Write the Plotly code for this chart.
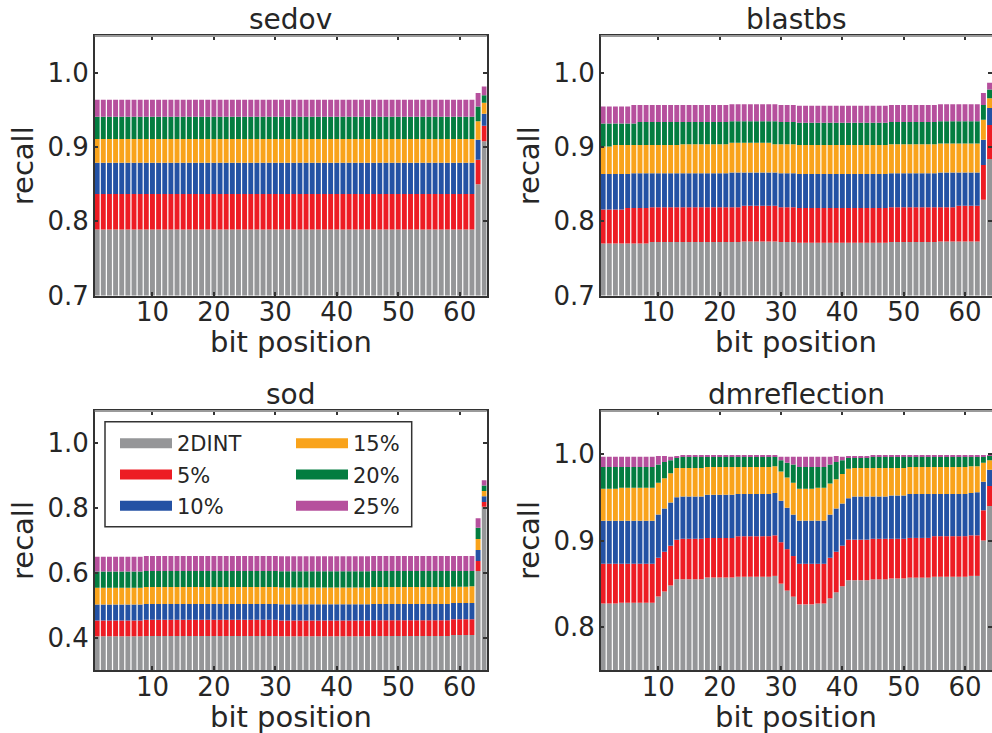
import numpy as np
import plotly.graph_objects as go

# ---------------------------------------------------------------- data
BITS = list(range(1, 65))
SERIES = ["2DINT", "5%", "10%", "15%", "20%", "25%"]
COLORS = ["#959698", "#ED1C24", "#2452A4", "#F9A31B", "#037D40", "#B6509D"]
X_TICKS = [10, 20, 30, 40, 50, 60]

# sedov: recall per bit position for each tolerance
SEDOV_2DINT = [0.789, 0.789, 0.789, 0.789, 0.789, 0.789, 0.789, 0.789, 0.789, 0.789, 0.789, 0.789, 0.789, 0.789, 0.789, 0.789,
               0.789, 0.789, 0.789, 0.789, 0.789, 0.789, 0.789, 0.789, 0.789, 0.789, 0.789, 0.789, 0.789, 0.789, 0.789, 0.789,
               0.789, 0.789, 0.789, 0.789, 0.789, 0.789, 0.789, 0.789, 0.789, 0.789, 0.789, 0.789, 0.789, 0.789, 0.789, 0.789,
               0.789, 0.789, 0.789, 0.789, 0.789, 0.789, 0.789, 0.789, 0.789, 0.789, 0.789, 0.789, 0.789, 0.789, 0.850, 0.908]
SEDOV_5 = [0.837, 0.837, 0.837, 0.837, 0.837, 0.837, 0.837, 0.837, 0.837, 0.837, 0.837, 0.837, 0.837, 0.837, 0.837, 0.837,
           0.837, 0.837, 0.837, 0.837, 0.837, 0.837, 0.837, 0.837, 0.837, 0.837, 0.837, 0.837, 0.837, 0.837, 0.837, 0.837,
           0.837, 0.837, 0.837, 0.837, 0.837, 0.837, 0.837, 0.837, 0.837, 0.837, 0.837, 0.837, 0.837, 0.837, 0.837, 0.837,
           0.837, 0.837, 0.837, 0.837, 0.837, 0.837, 0.837, 0.837, 0.837, 0.837, 0.837, 0.837, 0.837, 0.837, 0.883, 0.929]
SEDOV_10 = [0.879, 0.879, 0.879, 0.879, 0.879, 0.879, 0.879, 0.879, 0.879, 0.879, 0.879, 0.879, 0.879, 0.879, 0.879, 0.879,
            0.879, 0.879, 0.879, 0.879, 0.879, 0.879, 0.879, 0.879, 0.879, 0.879, 0.879, 0.879, 0.879, 0.879, 0.879, 0.879,
            0.879, 0.879, 0.879, 0.879, 0.879, 0.879, 0.879, 0.879, 0.879, 0.879, 0.879, 0.879, 0.879, 0.879, 0.879, 0.879,
            0.879, 0.879, 0.879, 0.879, 0.879, 0.879, 0.879, 0.879, 0.879, 0.879, 0.879, 0.879, 0.879, 0.879, 0.910, 0.945]
SEDOV_15 = [0.911, 0.911, 0.911, 0.911, 0.911, 0.911, 0.911, 0.911, 0.911, 0.911, 0.911, 0.911, 0.911, 0.911, 0.911, 0.911,
            0.911, 0.911, 0.911, 0.911, 0.911, 0.911, 0.911, 0.911, 0.911, 0.911, 0.911, 0.911, 0.911, 0.911, 0.911, 0.911,
            0.911, 0.911, 0.911, 0.911, 0.911, 0.911, 0.911, 0.911, 0.911, 0.911, 0.911, 0.911, 0.911, 0.911, 0.911, 0.911,
            0.911, 0.911, 0.911, 0.911, 0.911, 0.911, 0.911, 0.911, 0.911, 0.911, 0.911, 0.911, 0.911, 0.911, 0.935, 0.960]
SEDOV_20 = [0.941, 0.941, 0.941, 0.941, 0.941, 0.941, 0.941, 0.941, 0.941, 0.941, 0.941, 0.941, 0.941, 0.941, 0.941, 0.941,
            0.941, 0.941, 0.941, 0.941, 0.941, 0.941, 0.941, 0.941, 0.941, 0.941, 0.941, 0.941, 0.941, 0.941, 0.941, 0.941,
            0.941, 0.941, 0.941, 0.941, 0.941, 0.941, 0.941, 0.941, 0.941, 0.941, 0.941, 0.941, 0.941, 0.941, 0.941, 0.941,
            0.941, 0.941, 0.941, 0.941, 0.941, 0.941, 0.941, 0.941, 0.941, 0.941, 0.941, 0.941, 0.941, 0.941, 0.955, 0.970]
SEDOV_25 = [0.964, 0.964, 0.964, 0.964, 0.964, 0.964, 0.964, 0.964, 0.964, 0.964, 0.964, 0.964, 0.964, 0.964, 0.964, 0.964,
            0.964, 0.964, 0.964, 0.964, 0.964, 0.964, 0.964, 0.964, 0.964, 0.964, 0.964, 0.964, 0.964, 0.964, 0.964, 0.964,
            0.964, 0.964, 0.964, 0.964, 0.964, 0.964, 0.964, 0.964, 0.964, 0.964, 0.964, 0.964, 0.964, 0.964, 0.964, 0.964,
            0.964, 0.964, 0.964, 0.964, 0.964, 0.964, 0.964, 0.964, 0.964, 0.964, 0.964, 0.964, 0.964, 0.964, 0.973, 0.982]

# blastbs
BLAST_2DINT = [0.770, 0.770, 0.770, 0.770, 0.770, 0.770, 0.770, 0.770, 0.772, 0.772, 0.772, 0.772, 0.772, 0.772, 0.772, 0.772,
               0.772, 0.772, 0.772, 0.772, 0.772, 0.772, 0.772, 0.773, 0.773, 0.773, 0.773, 0.773, 0.773, 0.772, 0.772, 0.772,
               0.771, 0.771, 0.771, 0.771, 0.771, 0.771, 0.771, 0.771, 0.771, 0.771, 0.771, 0.771, 0.771, 0.771, 0.771, 0.772,
               0.772, 0.772, 0.772, 0.772, 0.772, 0.772, 0.772, 0.773, 0.773, 0.773, 0.773, 0.773, 0.773, 0.773, 0.829, 0.884]
BLAST_5 = [0.816, 0.816, 0.816, 0.816, 0.818, 0.818, 0.818, 0.818, 0.819, 0.819, 0.819, 0.819, 0.819, 0.819, 0.819, 0.819,
           0.819, 0.819, 0.819, 0.819, 0.819, 0.819, 0.819, 0.821, 0.821, 0.821, 0.821, 0.821, 0.821, 0.819, 0.819, 0.819,
           0.818, 0.818, 0.818, 0.818, 0.818, 0.818, 0.818, 0.818, 0.818, 0.818, 0.818, 0.818, 0.818, 0.818, 0.818, 0.819,
           0.819, 0.819, 0.819, 0.819, 0.819, 0.819, 0.819, 0.819, 0.819, 0.819, 0.821, 0.821, 0.821, 0.821, 0.876, 0.930]
BLAST_10 = [0.864, 0.864, 0.864, 0.864, 0.864, 0.865, 0.865, 0.865, 0.865, 0.865, 0.865, 0.865, 0.865, 0.865, 0.865, 0.865,
            0.865, 0.865, 0.865, 0.865, 0.865, 0.866, 0.866, 0.866, 0.866, 0.866, 0.866, 0.866, 0.866, 0.865, 0.865, 0.865,
            0.864, 0.864, 0.864, 0.864, 0.864, 0.864, 0.864, 0.864, 0.864, 0.864, 0.864, 0.864, 0.864, 0.864, 0.864, 0.865,
            0.865, 0.865, 0.865, 0.865, 0.865, 0.865, 0.865, 0.866, 0.866, 0.866, 0.866, 0.866, 0.866, 0.866, 0.910, 0.953]
BLAST_15 = [0.901, 0.901, 0.903, 0.903, 0.903, 0.903, 0.903, 0.903, 0.903, 0.903, 0.903, 0.903, 0.903, 0.904, 0.904, 0.904,
            0.904, 0.904, 0.904, 0.904, 0.904, 0.906, 0.906, 0.906, 0.906, 0.906, 0.906, 0.906, 0.904, 0.904, 0.904, 0.904,
            0.903, 0.903, 0.903, 0.903, 0.903, 0.903, 0.903, 0.903, 0.903, 0.903, 0.903, 0.903, 0.903, 0.903, 0.903, 0.904,
            0.904, 0.904, 0.904, 0.904, 0.904, 0.904, 0.904, 0.905, 0.905, 0.905, 0.905, 0.905, 0.905, 0.905, 0.937, 0.966]
BLAST_20 = [0.932, 0.932, 0.932, 0.932, 0.932, 0.932, 0.934, 0.934, 0.934, 0.934, 0.934, 0.934, 0.934, 0.934, 0.934, 0.934,
            0.934, 0.934, 0.934, 0.934, 0.934, 0.935, 0.935, 0.935, 0.935, 0.935, 0.935, 0.935, 0.935, 0.934, 0.934, 0.934,
            0.933, 0.933, 0.933, 0.933, 0.933, 0.933, 0.933, 0.933, 0.933, 0.933, 0.933, 0.933, 0.933, 0.933, 0.933, 0.934,
            0.934, 0.934, 0.934, 0.934, 0.934, 0.934, 0.934, 0.935, 0.935, 0.935, 0.935, 0.935, 0.935, 0.935, 0.957, 0.978]
BLAST_25 = [0.955, 0.955, 0.955, 0.955, 0.955, 0.957, 0.957, 0.957, 0.957, 0.957, 0.957, 0.957, 0.957, 0.957, 0.957, 0.957,
            0.957, 0.957, 0.957, 0.957, 0.957, 0.958, 0.958, 0.958, 0.958, 0.958, 0.958, 0.958, 0.958, 0.957, 0.957, 0.957,
            0.956, 0.956, 0.956, 0.956, 0.956, 0.956, 0.956, 0.956, 0.956, 0.956, 0.956, 0.956, 0.956, 0.956, 0.956, 0.957,
            0.957, 0.957, 0.957, 0.957, 0.957, 0.957, 0.957, 0.958, 0.958, 0.958, 0.958, 0.958, 0.958, 0.958, 0.973, 0.987]

# sod
SOD_2DINT = [0.404, 0.404, 0.404, 0.404, 0.404, 0.404, 0.404, 0.404, 0.405, 0.405, 0.405, 0.405, 0.405, 0.405, 0.405, 0.405,
             0.405, 0.405, 0.405, 0.405, 0.405, 0.405, 0.405, 0.405, 0.405, 0.405, 0.405, 0.405, 0.405, 0.405, 0.404, 0.404,
             0.404, 0.404, 0.404, 0.404, 0.404, 0.404, 0.404, 0.404, 0.404, 0.404, 0.404, 0.404, 0.404, 0.405, 0.405, 0.405,
             0.405, 0.405, 0.405, 0.405, 0.405, 0.405, 0.405, 0.405, 0.405, 0.405, 0.408, 0.408, 0.408, 0.408, 0.606, 0.804]
SOD_5 = [0.453, 0.453, 0.453, 0.453, 0.453, 0.453, 0.453, 0.453, 0.455, 0.455, 0.455, 0.455, 0.455, 0.455, 0.455, 0.455,
         0.455, 0.455, 0.455, 0.455, 0.455, 0.455, 0.455, 0.455, 0.455, 0.455, 0.455, 0.455, 0.455, 0.455, 0.453, 0.453,
         0.453, 0.453, 0.453, 0.453, 0.453, 0.453, 0.453, 0.453, 0.453, 0.453, 0.453, 0.453, 0.453, 0.454, 0.454, 0.454,
         0.454, 0.454, 0.454, 0.454, 0.454, 0.454, 0.454, 0.454, 0.454, 0.454, 0.457, 0.457, 0.457, 0.457, 0.637, 0.819]
SOD_10 = [0.502, 0.502, 0.502, 0.502, 0.502, 0.502, 0.502, 0.502, 0.504, 0.504, 0.504, 0.504, 0.504, 0.504, 0.504, 0.504,
          0.504, 0.504, 0.504, 0.504, 0.504, 0.504, 0.504, 0.504, 0.504, 0.504, 0.504, 0.504, 0.504, 0.504, 0.503, 0.503,
          0.503, 0.503, 0.503, 0.503, 0.503, 0.503, 0.503, 0.503, 0.503, 0.503, 0.503, 0.503, 0.503, 0.504, 0.504, 0.504,
          0.504, 0.504, 0.504, 0.504, 0.504, 0.504, 0.504, 0.504, 0.504, 0.504, 0.507, 0.507, 0.507, 0.507, 0.671, 0.837]
SOD_15 = [0.554, 0.554, 0.554, 0.554, 0.554, 0.554, 0.554, 0.554, 0.556, 0.556, 0.556, 0.556, 0.556, 0.556, 0.556, 0.556,
          0.556, 0.556, 0.556, 0.556, 0.556, 0.556, 0.556, 0.556, 0.556, 0.556, 0.556, 0.556, 0.556, 0.556, 0.555, 0.555,
          0.555, 0.555, 0.555, 0.555, 0.555, 0.555, 0.555, 0.555, 0.555, 0.555, 0.555, 0.555, 0.555, 0.556, 0.556, 0.556,
          0.556, 0.556, 0.556, 0.556, 0.556, 0.556, 0.556, 0.556, 0.556, 0.556, 0.557, 0.557, 0.557, 0.559, 0.705, 0.853]
SOD_20 = [0.604, 0.604, 0.604, 0.604, 0.604, 0.604, 0.604, 0.604, 0.606, 0.606, 0.606, 0.606, 0.606, 0.606, 0.606, 0.606,
          0.606, 0.606, 0.606, 0.606, 0.606, 0.606, 0.606, 0.606, 0.606, 0.606, 0.606, 0.606, 0.606, 0.606, 0.605, 0.605,
          0.605, 0.605, 0.605, 0.605, 0.605, 0.605, 0.605, 0.605, 0.605, 0.605, 0.605, 0.605, 0.605, 0.606, 0.606, 0.606,
          0.606, 0.606, 0.606, 0.606, 0.606, 0.606, 0.606, 0.606, 0.606, 0.606, 0.606, 0.606, 0.606, 0.606, 0.739, 0.870]
SOD_25 = [0.650, 0.650, 0.650, 0.650, 0.650, 0.650, 0.650, 0.650, 0.652, 0.652, 0.652, 0.652, 0.652, 0.652, 0.652, 0.652,
          0.652, 0.652, 0.652, 0.652, 0.652, 0.652, 0.652, 0.652, 0.652, 0.652, 0.652, 0.652, 0.652, 0.652, 0.651, 0.651,
          0.651, 0.651, 0.651, 0.651, 0.651, 0.651, 0.651, 0.651, 0.651, 0.651, 0.651, 0.651, 0.651, 0.652, 0.652, 0.652,
          0.652, 0.652, 0.652, 0.652, 0.652, 0.652, 0.652, 0.652, 0.652, 0.652, 0.652, 0.652, 0.652, 0.652, 0.769, 0.886]

# dmreflection
DMR_2DINT = [0.827, 0.827, 0.827, 0.828, 0.828, 0.828, 0.828, 0.828, 0.828, 0.835, 0.841, 0.848, 0.855, 0.855, 0.855, 0.855,
             0.855, 0.857, 0.857, 0.857, 0.857, 0.857, 0.858, 0.858, 0.858, 0.858, 0.858, 0.858, 0.859, 0.850, 0.842, 0.835,
             0.826, 0.826, 0.826, 0.827, 0.827, 0.833, 0.840, 0.847, 0.854, 0.854, 0.854, 0.854, 0.855, 0.855, 0.855, 0.856,
             0.856, 0.856, 0.857, 0.857, 0.857, 0.857, 0.858, 0.858, 0.858, 0.858, 0.858, 0.858, 0.859, 0.859, 0.900, 0.940]
DMR_5 = [0.873, 0.873, 0.873, 0.873, 0.873, 0.873, 0.873, 0.873, 0.873, 0.880, 0.887, 0.894, 0.901, 0.902, 0.902, 0.902,
         0.902, 0.903, 0.903, 0.903, 0.903, 0.903, 0.905, 0.905, 0.905, 0.905, 0.905, 0.905, 0.906, 0.898, 0.890, 0.882,
         0.873, 0.873, 0.873, 0.873, 0.873, 0.880, 0.887, 0.894, 0.901, 0.901, 0.901, 0.901, 0.902, 0.902, 0.902, 0.902,
         0.902, 0.902, 0.903, 0.903, 0.903, 0.903, 0.905, 0.905, 0.905, 0.905, 0.905, 0.905, 0.906, 0.906, 0.935, 0.963]
DMR_10 = [0.923, 0.923, 0.923, 0.923, 0.923, 0.923, 0.923, 0.923, 0.923, 0.930, 0.937, 0.944, 0.950, 0.951, 0.951, 0.951,
          0.951, 0.953, 0.953, 0.953, 0.953, 0.953, 0.954, 0.954, 0.954, 0.954, 0.954, 0.954, 0.955, 0.946, 0.938, 0.930,
          0.923, 0.923, 0.923, 0.923, 0.923, 0.930, 0.937, 0.943, 0.949, 0.951, 0.951, 0.951, 0.951, 0.951, 0.951, 0.952,
          0.952, 0.952, 0.954, 0.954, 0.954, 0.954, 0.954, 0.954, 0.954, 0.954, 0.954, 0.954, 0.955, 0.956, 0.968, 0.982]
DMR_15 = [0.960, 0.960, 0.960, 0.961, 0.961, 0.961, 0.961, 0.961, 0.961, 0.967, 0.972, 0.978, 0.984, 0.984, 0.984, 0.984,
          0.984, 0.985, 0.985, 0.985, 0.985, 0.985, 0.985, 0.985, 0.985, 0.985, 0.985, 0.985, 0.986, 0.980, 0.973, 0.967,
          0.960, 0.960, 0.960, 0.961, 0.961, 0.966, 0.971, 0.977, 0.983, 0.984, 0.984, 0.984, 0.984, 0.984, 0.984, 0.984,
          0.984, 0.984, 0.985, 0.985, 0.985, 0.985, 0.985, 0.985, 0.985, 0.985, 0.985, 0.985, 0.986, 0.986, 0.990, 0.993]
DMR_20 = [0.985, 0.985, 0.985, 0.985, 0.985, 0.985, 0.985, 0.985, 0.985, 0.988, 0.991, 0.993, 0.996, 0.997, 0.997, 0.997,
          0.997, 0.997, 0.997, 0.997, 0.997, 0.997, 0.997, 0.997, 0.997, 0.997, 0.997, 0.997, 0.997, 0.993, 0.990, 0.988,
          0.985, 0.985, 0.985, 0.985, 0.985, 0.988, 0.991, 0.993, 0.996, 0.996, 0.996, 0.996, 0.997, 0.997, 0.997, 0.997,
          0.997, 0.997, 0.997, 0.997, 0.997, 0.997, 0.997, 0.997, 0.997, 0.997, 0.997, 0.997, 0.997, 0.997, 0.997, 0.998]
DMR_25 = [0.997, 0.997, 0.997, 0.997, 0.997, 0.997, 0.997, 0.997, 0.997, 0.998, 0.998, 0.997, 0.997, 0.998, 0.998, 0.998,
          0.998, 0.998, 0.998, 0.998, 0.998, 0.998, 0.998, 0.998, 0.998, 0.998, 0.998, 0.998, 0.998, 0.997, 0.997, 0.997,
          0.997, 0.997, 0.997, 0.997, 0.997, 0.997, 0.998, 0.997, 0.997, 0.997, 0.997, 0.997, 0.998, 0.998, 0.998, 0.998,
          0.998, 0.998, 0.998, 0.998, 0.998, 0.998, 0.998, 0.998, 0.998, 0.998, 0.998, 0.998, 0.998, 0.998, 0.998, 0.999]

PANELS = [
    ("sedov", [SEDOV_2DINT, SEDOV_5, SEDOV_10, SEDOV_15, SEDOV_20, SEDOV_25], [0.7, 1.05], [0.7, 0.8, 0.9, 1.0]),
    ("blastbs", [BLAST_2DINT, BLAST_5, BLAST_10, BLAST_15, BLAST_20, BLAST_25], [0.7, 1.05], [0.7, 0.8, 0.9, 1.0]),
    ("sod", [SOD_2DINT, SOD_5, SOD_10, SOD_15, SOD_20, SOD_25], [0.3, 1.1], [0.4, 0.6, 0.8, 1.0]),
    ("dmreflection", [DMR_2DINT, DMR_5, DMR_10, DMR_15, DMR_20, DMR_25], [0.75, 1.05], [0.8, 0.9, 1.0]),
]

# ---------------------------------------------------------------- layout geometry (pixels)
W, H = 992, 733
BOXES = [  # left, right, top, bottom
    (94.7, 486.7, 36.0, 295.5),
    (600.7, 992.0, 36.0, 295.5),
    (94.7, 486.7, 411.0, 670.0),
    (600.7, 992.0, 411.0, 670.0),
]
FONT = "DejaVu Sans, Liberation Sans, Arial, sans-serif"
INK = "#262626"


def xdom(l, r):
    return [l / W, min(r / W, 1.0)]


def ydom(t, b):
    return [1 - b / H, 1 - t / H]


fig = go.Figure()
layout = dict(
    width=W, height=H,
    margin=dict(l=0, r=0, t=0, b=0, autoexpand=False),
    paper_bgcolor="white", plot_bgcolor="white",
    barmode="overlay", bargap=0.2,
    font=dict(family=FONT, color=INK, size=26),
    annotations=[], shapes=[],
)

for i, (name, series, yrange, yticks) in enumerate(PANELS):
    n = "" if i == 0 else str(i + 1)
    xa, ya = "x" + n, "y" + n
    # each tolerance level is a segment from the previous level up to its own recall
    lower = np.zeros(len(BITS))
    for k in range(len(SERIES)):
        upper = np.array(series[k])
        fig.add_trace(go.Bar(
            x=BITS, y=np.round(upper - lower, 4), base=lower, width=0.8,
            marker=dict(color=COLORS[k], line=dict(width=0)),
            name=SERIES[k], showlegend=False, customdata=upper,
            hovertemplate="bit %{x}<br>" + SERIES[k] + ": %{customdata:.3f}<extra>" + name + "</extra>",
            xaxis=xa, yaxis=ya,
        ))
        lower = upper
    l, r, t, b = BOXES[i]
    layout["xaxis" + n] = dict(
        domain=xdom(l, r), anchor=ya, range=[0.6, 64.4], automargin=False,
        tickvals=X_TICKS, ticktext=[str(v) for v in X_TICKS],
        ticks="inside", ticklen=4, tickwidth=1.5, tickcolor="#333",
        showline=True, linecolor="#333", linewidth=1.5, mirror="ticks",
        showgrid=False, zeroline=False, ticklabelstandoff=-7,
        tickfont=dict(size=26, color=INK),
    )
    layout["yaxis" + n] = dict(
        domain=ydom(t, b), anchor=xa, range=yrange, automargin=False,
        tickvals=yticks, ticktext=["%.1f" % v for v in yticks],
        ticks="inside", ticklen=4, tickwidth=1.5, tickcolor="#333",
        showline=True, linecolor="#333", linewidth=1.5, mirror="ticks",
        showgrid=False, zeroline=False, ticklabelstandoff=-1,
        tickfont=dict(size=26, color=INK),
        title=dict(text="recall", font=dict(size=29, color=INK), standoff=5),
    )
    # lighter top spine
    layout["shapes"].append(dict(
        type="line", xref=xa + " domain", yref=ya + " domain",
        x0=0, x1=1, y0=1, y1=1, line=dict(color="#9a9a9a", width=2), layer="above",
    ))
    # panel title
    layout["annotations"].append(dict(
        text=name, xref=xa + " domain", yref=ya + " domain", x=0.5, y=1,
        xanchor="center", yanchor="bottom", yshift=-2, showarrow=False,
        font=dict(size=28, color=INK),
    ))
    # x axis label under the tick labels
    layout["annotations"].append(dict(
        text="bit position", xref=xa + " domain", yref=ya + " domain", x=0.5, y=0,
        xanchor="center", yanchor="middle", yshift=-46.5, borderpad=0, showarrow=False,
        font=dict(size=29, color=INK),
    ))

# legend entries: two columns inside the sod panel
for k, s in enumerate(SERIES):
    fig.add_trace(go.Scatter(
        x=[None], y=[None], mode="lines", name=s,
        line=dict(color=COLORS[k], width=15),
        xaxis="x3", yaxis="y3",
        legend="legend" if k < 3 else "legend2",
        legendgroup=s, showlegend=True, hoverinfo="skip",
    ))

leg_common = dict(
    orientation="v", xanchor="left", yanchor="top",
    bgcolor="rgba(0,0,0,0)", borderwidth=0,
    font=dict(size=21, color=INK, family=FONT),
    itemwidth=52, tracegroupgap=1, traceorder="grouped",
)
layout["legend"] = dict(leg_common, x=115 / W, y=1 - 423 / H)
layout["legend2"] = dict(leg_common, x=291 / W, y=1 - 423 / H)
layout["shapes"].append(dict(
    type="rect", xref="paper", yref="paper",
    x0=105 / W, x1=411.7 / W, y0=1 - 526.7 / H, y1=1 - 421.7 / H,
    line=dict(color="#333", width=1.5), fillcolor="rgba(0,0,0,0)", layer="above",
))

fig.update_layout(**layout)
fig.write_html("out.html")
